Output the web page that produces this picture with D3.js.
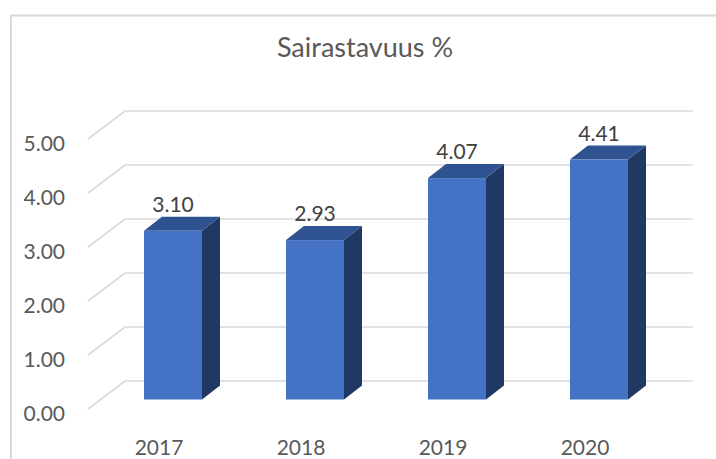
<!DOCTYPE html>
<html lang="en">
<head>
<meta charset="UTF-8" />
<title>Sairastavuus %</title>
<script src="https://d3js.org/d3.v7.min.js"></script>
<style>
  html, body { margin: 0; padding: 0; background: #fff; overflow: hidden; }
  svg { display: block; font-family: Lato, "Open Sans", sans-serif; }
</style>
</head>
<body>
<script>
const years = ["2017", "2018", "2019", "2020"];
const sickness = [3.10, 2.93, 4.07, 4.41];
const yTicks = [0, 1, 2, 3, 4, 5];

const width = 716, height = 459;
const depthX = 37, depthY = 28;       // floor depth of the 3d box
const barDepthX = 18, barDepthY = 14; // depth of one bar

const svg = d3.select("body").append("svg")
  .attr("width", width)
  .attr("height", height);

// chart area border, only top and left are in the picture
svg.append("path")
  .attr("d", "M11,459V15.5H716")
  .attr("fill", "none")
  .attr("stroke", "#d9d9d9")
  .attr("stroke-width", 2);

svg.append("text")
  .attr("x", 365)
  .attr("y", 57)
  .attr("text-anchor", "middle")
  .attr("fill", "#595959")
  .style("font-size", "27px")
  .text("Sairastavuus %");

const x = d3.scaleBand().domain(years).range([88, 656]);
const yFront = d3.scaleLinear().domain([0, 5]).range([409, 139]);
const yBar = d3.scaleLinear().domain([0, 5]).range([399.5, 127.5]);

// gridlines: diagonal on the side wall, then along the back wall
svg.append("g").selectAll("path")
  .data(yTicks)
  .join("path")
  .attr("d", d => `M${x.range()[0]},${yFront(d)}l${depthX},${-depthY}H${x.range()[1] + depthX}`)
  .attr("fill", "none")
  .attr("stroke", "#d9d9d9")
  .attr("stroke-width", 1.6);

const yAxis = svg.append("g")
  .attr("transform", "translate(65,0)")
  .call(d3.axisLeft(yFront).tickValues(yTicks).tickSize(0).tickPadding(0).tickFormat(d3.format(".2f")));
yAxis.select(".domain").remove();
yAxis.selectAll("text")
  .attr("dy", "0.36em")
  .attr("transform", "translate(0,4)")
  .attr("fill", "#595959")
  .style("font-family", "Lato, 'Open Sans', sans-serif")
  .style("font-size", "21px");

const xAxis = svg.append("g")
  .attr("transform", "translate(0,440)")
  .call(d3.axisBottom(x).tickSize(0).tickPadding(0));
xAxis.select(".domain").remove();
xAxis.selectAll("text")
  .attr("fill", "#595959")
  .style("font-family", "Lato, 'Open Sans', sans-serif")
  .style("font-size", "21px");

const barW = 58;
const barShift = 14; // bars sit midway into the floor
const bars = svg.append("g").selectAll("g")
  .data(years.map((year, i) => ({ year, value: sickness[i] })))
  .join("g")
  .attr("transform", d => `translate(${x(d.year) + x.bandwidth() / 2 + barShift - barW / 2},0)`);

bars.append("path")
  .attr("fill", "#203864")
  .attr("d", d => `M${barW},${yBar(d.value)}l${barDepthX},${-barDepthY}V${yBar(0) - barDepthY}l${-barDepthX},${barDepthY}Z`);

bars.append("path")
  .attr("fill", "#2f5290")
  .attr("d", d => `M0,${yBar(d.value)}l${barDepthX},${-barDepthY}h${barW}l${-barDepthX},${barDepthY}Z`);

bars.append("rect")
  .attr("y", d => yBar(d.value))
  .attr("width", barW)
  .attr("height", d => yBar(0) - yBar(d.value))
  .attr("fill", "#4472c4");

bars.append("text")
  .attr("x", barW / 2)
  .attr("y", d => yBar(d.value) - 19)
  .attr("text-anchor", "middle")
  .attr("fill", "#404040")
  .style("font-size", "21px")
  .text(d => d.value.toFixed(2));
</script>
</body>
</html>
